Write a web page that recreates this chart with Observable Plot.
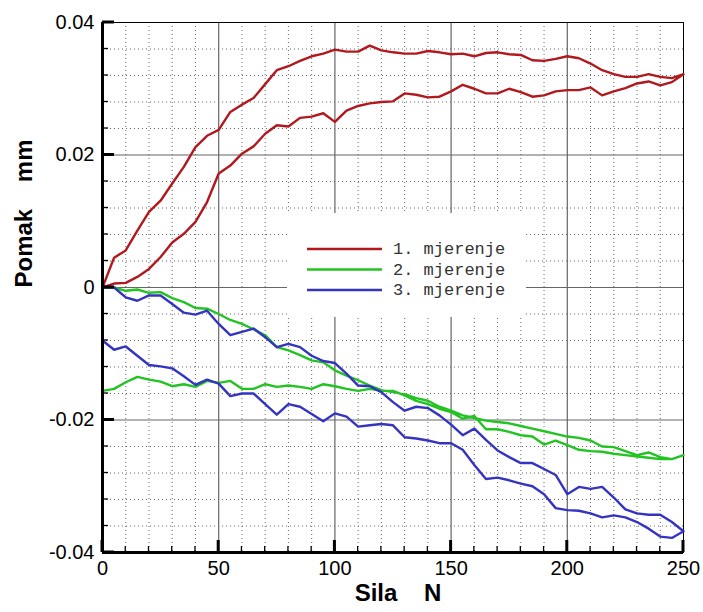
<!DOCTYPE html>
<html><head><meta charset="utf-8">
<script src="https://cdn.jsdelivr.net/npm/d3@7"></script>
<script src="https://cdn.jsdelivr.net/npm/@observablehq/plot@0.6"></script>
<style>
body{margin:0;background:#fff;}
#chart{width:703px;height:612px;}
</style></head><body><div id="chart"></div>
<script>
// Force (N) sample points
const force = [0,5,10,15,20,25,30,35,40,45,50,55,60,65,70,75,80,85,90,95,100,105,110,115,120,125,130,135,140,145,150,155,160,165,170,175,180,185,190,195,200,205,210,215,220,225,230,235,240,245,250];

// 1. mjerenje: loading (lower red) and unloading (upper red), both listed by force 0..250
const m1Load = [0,0.0006,0.0007,0.0016,0.0028,0.0046,0.0068,0.0081,0.0099,0.0129,0.0172,0.0184,0.0202,0.0213,0.0232,0.0245,0.0243,0.0256,0.0258,0.0263,0.0250,0.0267,0.0274,0.0278,0.0280,0.0281,0.0293,0.0291,0.0287,0.0288,0.0296,0.0306,0.0300,0.0293,0.0293,0.0300,0.0295,0.0288,0.0290,0.0296,0.0298,0.0298,0.0302,0.0290,0.0296,0.0301,0.0308,0.0311,0.0305,0.0310,0.0322];
const m1Unload = [0,0.0045,0.0056,0.0086,0.0114,0.0131,0.0157,0.0182,0.0212,0.0229,0.0238,0.0265,0.0276,0.0286,0.0307,0.0328,0.0334,0.0342,0.0349,0.0353,0.0359,0.0356,0.0356,0.0365,0.0358,0.0355,0.0353,0.0353,0.0357,0.0355,0.0352,0.0353,0.0349,0.0354,0.0355,0.0352,0.0351,0.0343,0.0342,0.0345,0.0349,0.0346,0.0338,0.0328,0.0322,0.0318,0.0318,0.0322,0.0318,0.0316,0.0322];

// 2. mjerenje
const m2Load = [0,0,-0.0005,-0.0003,-0.0008,-0.0007,-0.0016,-0.0022,-0.0031,-0.0032,-0.0040,-0.0049,-0.0055,-0.0063,-0.0072,-0.0090,-0.0095,-0.0102,-0.0110,-0.0113,-0.0125,-0.0133,-0.0140,-0.0148,-0.0155,-0.0158,-0.0161,-0.0167,-0.0171,-0.0180,-0.0186,-0.0193,-0.0197,-0.0201,-0.0203,-0.0205,-0.0209,-0.0213,-0.0217,-0.0221,-0.0225,-0.0227,-0.0231,-0.0240,-0.0241,-0.0247,-0.0253,-0.0249,-0.0256,-0.0259,-0.0253];
const m2Unload = [-0.0156,-0.0153,-0.0143,-0.0135,-0.0139,-0.0142,-0.0149,-0.0146,-0.0150,-0.0141,-0.0144,-0.0141,-0.0153,-0.0153,-0.0146,-0.0150,-0.0148,-0.0150,-0.0153,-0.0146,-0.0149,-0.0153,-0.0156,-0.0153,-0.0156,-0.0156,-0.0163,-0.0171,-0.0176,-0.0183,-0.0188,-0.0198,-0.0194,-0.0214,-0.0214,-0.0218,-0.0223,-0.0225,-0.0237,-0.0231,-0.0238,-0.0245,-0.0247,-0.0248,-0.0251,-0.0253,-0.0255,-0.0257,-0.0259,-0.0259,-0.0253];

// 3. mjerenje
const m3Load = [0,0,-0.0015,-0.0020,-0.0012,-0.0012,-0.0025,-0.0038,-0.0041,-0.0035,-0.0055,-0.0072,-0.0067,-0.0062,-0.0075,-0.0090,-0.0085,-0.0090,-0.0103,-0.0111,-0.0114,-0.0130,-0.0148,-0.0149,-0.0158,-0.0173,-0.0186,-0.0180,-0.0182,-0.0193,-0.0207,-0.0223,-0.0213,-0.0230,-0.0246,-0.0256,-0.0265,-0.0265,-0.0274,-0.0283,-0.0312,-0.0301,-0.0304,-0.0301,-0.0317,-0.0335,-0.0341,-0.0343,-0.0343,-0.0354,-0.0368];
const m3Unload = [-0.0080,-0.0094,-0.0089,-0.0103,-0.0117,-0.0119,-0.0122,-0.0134,-0.0147,-0.0139,-0.0145,-0.0164,-0.0160,-0.0160,-0.0176,-0.0192,-0.0176,-0.0180,-0.0191,-0.0202,-0.0190,-0.0195,-0.0210,-0.0208,-0.0206,-0.0208,-0.0226,-0.0228,-0.0231,-0.0235,-0.0235,-0.0245,-0.0268,-0.0289,-0.0287,-0.0291,-0.0296,-0.0300,-0.0312,-0.0333,-0.0336,-0.0337,-0.0341,-0.0347,-0.0344,-0.0347,-0.0354,-0.0364,-0.0376,-0.0378,-0.0368];

const seriesNames = ["1. mjerenje", "2. mjerenje", "3. mjerenje"];
const seriesColors = ["#b0191e", "#22c322", "#3434c0"];

const xMajorTicks = [0, 50, 100, 150, 200, 250];
const xTickLabels = ["0", "50", "100", "150", "200", "250"];
const xMinorTicks = [10,20,30,40,60,70,80,90,110,120,130,140,160,170,180,190,210,220,230,240];
const yMajorTicks = [-0.04, -0.02, 0, 0.02, 0.04];
const yTickLabels = ["-0.04", "-0.02", "0", "0.02", "0.04"];
const yMinorTicks = [-0.036,-0.032,-0.028,-0.024,-0.016,-0.012,-0.008,-0.004,0.004,0.008,0.012,0.016,0.024,0.028,0.032,0.036];
const xGridMajor = [50, 100, 150, 200];
const yGridMajor = [-0.02, 0, 0.02];
const xTitle = "Sila\u00a0\u00a0\u00a0\u00a0N";
const yTitle = "Pomak\u00a0\u00a0\u00a0\u00a0mm";

// build loop paths: loading 0 -> 250, then unloading 250 -> 0
const pairs = [[m1Load, m1Unload], [m2Load, m2Unload], [m3Load, m3Unload]];
const rows = [];
pairs.forEach(([load, unload], s) => {
  force.forEach((f, i) => rows.push({series: seriesNames[s], x: f, y: load[i]}));
  for (let i = force.length - 1; i >= 0; i--) rows.push({series: seriesNames[s], x: force[i], y: unload[i]});
});

const chart = Plot.plot({
  width: 703,
  height: 612,
  marginLeft: 102,
  marginRight: 20,
  marginTop: 22,
  marginBottom: 60,
  style: {fontFamily: "'Liberation Sans', Arial, sans-serif", background: "#fff"},
  x: {domain: [0, 250]},
  y: {domain: [-0.04, 0.04]},
  color: {domain: seriesNames, range: seriesColors},
  marks: [
    Plot.gridX({ticks: xMinorTicks, stroke: "#666", strokeOpacity: 1, strokeWidth: 1, strokeDasharray: "1,3"}),
    Plot.gridY({ticks: yMinorTicks, stroke: "#666", strokeOpacity: 1, strokeWidth: 1, strokeDasharray: "1,3"}),
    Plot.gridX({ticks: xGridMajor, stroke: "#666", strokeOpacity: 1, strokeWidth: 1.2}),
    Plot.gridY({ticks: yGridMajor, stroke: "#666", strokeOpacity: 1, strokeWidth: 1.2}),
    Plot.frame({stroke: "#000", strokeWidth: 1}),
    Plot.line(rows, {x: "x", y: "y", z: "series", stroke: "series", strokeWidth: 2.4, strokeLinejoin: "round"}),
    Plot.ruleX([0], {stroke: "#000", strokeWidth: 3}),
    Plot.ruleY([-0.04], {stroke: "#000", strokeWidth: 3}),
    Plot.axisY({ticks: yMajorTicks, tickFormat: (d, i) => yTickLabels[i], tickSize: 0, tickPadding: 8, fontSize: 20, label: null, fill: "#000"}),
    Plot.axisX({ticks: xMajorTicks, tickFormat: (d, i) => xTickLabels[i], tickSize: 0, tickPadding: 8, fontSize: 20, label: null, fill: "#000"}),
    Plot.text([yTitle], {frameAnchor: "left", dx: -78, rotate: -90, fontSize: 24, fontWeight: "bold", fill: "#000"}),
    Plot.text([xTitle], {frameAnchor: "bottom", dx: 5, dy: 48, fontSize: 24, fontWeight: "bold", fill: "#000"})
  ]
});
document.getElementById("chart").appendChild(chart);

const svg = d3.select(chart);
const sx = chart.scale("x"), sy = chart.scale("y");
const x0 = sx.apply(0), yb = sy.apply(-0.04);

// inward ticks on left and bottom axes, positioned through the plot's scales
const tg = svg.append("g").attr("class", "inward-ticks").attr("stroke", "#000");
yMajorTicks.forEach(v => tg.append("line").attr("x1", x0).attr("x2", x0 + 12).attr("y1", sy.apply(v)).attr("y2", sy.apply(v)).attr("stroke-width", 3));
yMinorTicks.forEach(v => tg.append("line").attr("x1", x0).attr("x2", x0 + 6).attr("y1", sy.apply(v)).attr("y2", sy.apply(v)).attr("stroke-width", 1.3));
xMajorTicks.forEach(v => tg.append("line").attr("x1", sx.apply(v)).attr("x2", sx.apply(v)).attr("y1", yb).attr("y2", yb - 12).attr("stroke-width", 3));
xMinorTicks.forEach(v => tg.append("line").attr("x1", sx.apply(v)).attr("x2", sx.apply(v)).attr("y1", yb).attr("y2", yb - 6).attr("stroke-width", 1.3));

// legend box inside plot (covers grid, beneath lines)
const lg = svg.insert("g", "g[aria-label='line']").attr("class", "legend");
lg.append("rect").attr("x", 287).attr("y", 213).attr("width", 239).attr("height", 104).attr("fill", "#fff");
seriesNames.forEach((name, i) => {
  const y = 249 + i * 20.5;
  lg.append("line").attr("x1", 307).attr("x2", 382).attr("y1", y).attr("y2", y)
    .attr("stroke", seriesColors[i]).attr("stroke-width", 2.6);
  lg.append("text").attr("x", 393).attr("y", y + 5).text(name).attr("text-anchor", "start")
    .attr("font-family", "'Liberation Mono', 'Courier New', monospace").attr("font-size", 17).attr("fill", "#333");
});
</script></body></html>
